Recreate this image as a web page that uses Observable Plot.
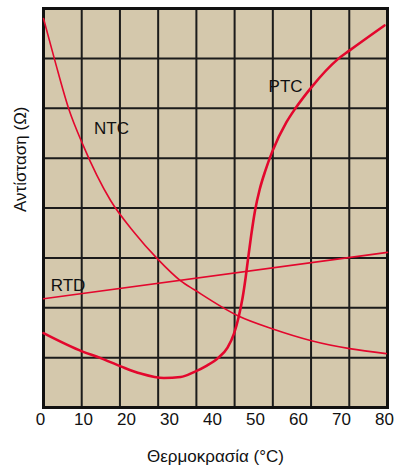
<!DOCTYPE html>
<html>
<head>
<meta charset="utf-8">
<script src="https://cdn.jsdelivr.net/npm/d3@7"></script>
<script src="https://cdn.jsdelivr.net/npm/@observablehq/plot@0.6"></script>
<style>
  html, body { margin: 0; padding: 0; background: #ffffff; }
  #chart svg { display: block; }
</style>
</head>
<body>
<div id="chart"></div>
<script>
// Temperature ticks (°C)
const xTicks = [0, 10, 20, 30, 40, 50, 60, 70, 80];
const yGrid = [0, 1, 2, 3, 4, 5, 6, 7, 8];

// NTC thermistor (temperature, resistance in grid units)
const ntcTemp = [0, 2.6, 5.9, 9.1, 15.6, 21, 26.4, 31.9, 35.1, 45.2, 53.5, 62.3, 71.2, 79.7];
const ntcRes  = [7.8, 6.97, 5.98, 5.28, 4.15, 3.52, 2.99, 2.54, 2.36, 1.84, 1.57, 1.34, 1.18, 1.08];

// PTC thermistor
const ptcTemp = [0, 9.1, 13.3, 18.1, 22.6, 28, 31.9, 35, 38, 40.7, 42.8, 44.3, 45.4, 46.3, 47.0, 47.6, 48.3, 49.2, 50.3, 51.6, 53.2, 56.5, 58.6, 62.3, 68.4, 71.2, 79.3];
const ptcRes  = [1.49, 1.12, 0.99, 0.82, 0.68, 0.59, 0.61, 0.71, 0.84, 1.0, 1.2, 1.48, 1.82, 2.2, 2.6, 3.0, 3.45, 3.95, 4.38, 4.75, 5.13, 5.72, 6.0, 6.42, 6.98, 7.16, 7.66];

// RTD (linear)
const rtdTemp = [0, 80];
const rtdRes  = [2.18, 3.11];

// Curve labels
const labelNames = ["NTC", "PTC", "RTD"];
const labelTemp  = [15.8, 56.3, 5.7];
const labelRes   = [5.6, 6.44, 2.44];

const ntc = ntcTemp.map((t, i) => ({t, r: ntcRes[i]}));
const ptc = ptcTemp.map((t, i) => ({t, r: ptcRes[i]}));
const rtd = rtdTemp.map((t, i) => ({t, r: rtdRes[i]}));
const labels = labelNames.map((n, i) => ({n, t: labelTemp[i], r: labelRes[i]}));
const gridX = d3.range(10).map(i => i * 80 / 9);

const red = "#e3072d";
const font = "'Liberation Sans', Arial, sans-serif";

const chart = Plot.plot({
  width: 394,
  height: 471,
  marginLeft: 43,
  marginRight: 7,
  marginTop: 8,
  marginBottom: 64,
  style: { fontFamily: font, fontSize: "17px", color: "#111", background: "#ffffff" },
  x: { domain: [0, 80] },
  y: { domain: [0, 8] },
  marks: [
    Plot.frame({ fill: "#d4c8ac", stroke: "none" }),
    Plot.ruleX(gridX, { stroke: "#1b1b1b", strokeWidth: 2, strokeOpacity: 1 }),
    Plot.ruleY(yGrid, { stroke: "#1b1b1b", strokeWidth: 2, strokeOpacity: 1 }),
    Plot.frame({ stroke: "#111", strokeWidth: 3 }),
    Plot.line(rtd, { x: "t", y: "r", stroke: red, strokeWidth: 1.6 }),
    Plot.line(ntc, { x: "t", y: "r", stroke: red, strokeWidth: 1.6, curve: "monotone-x" }),
    Plot.line(ptc, { x: "t", y: "r", stroke: red, strokeWidth: 2.6, curve: "monotone-x" }),
    Plot.text(labels, { x: "t", y: "r", text: "n", fontSize: 17, fill: "#111" }),
    Plot.axisX(xTicks, { tickSize: 0, tickPadding: 5, dx: -3, fontSize: 17, label: null }),
    Plot.axisY([], { label: null, tickSize: 0 }),
    Plot.text(["Θερμοκρασία (°C)"], { frameAnchor: "bottom", dy: 54, fontSize: 17, fill: "#111" }),
    Plot.text(["Αντίσταση (Ω)"], { frameAnchor: "left", rotate: -90, dx: -23, dy: 4, fontSize: 17, fill: "#111" })
  ]
});
document.getElementById("chart").appendChild(chart);
</script>
</body>
</html>
